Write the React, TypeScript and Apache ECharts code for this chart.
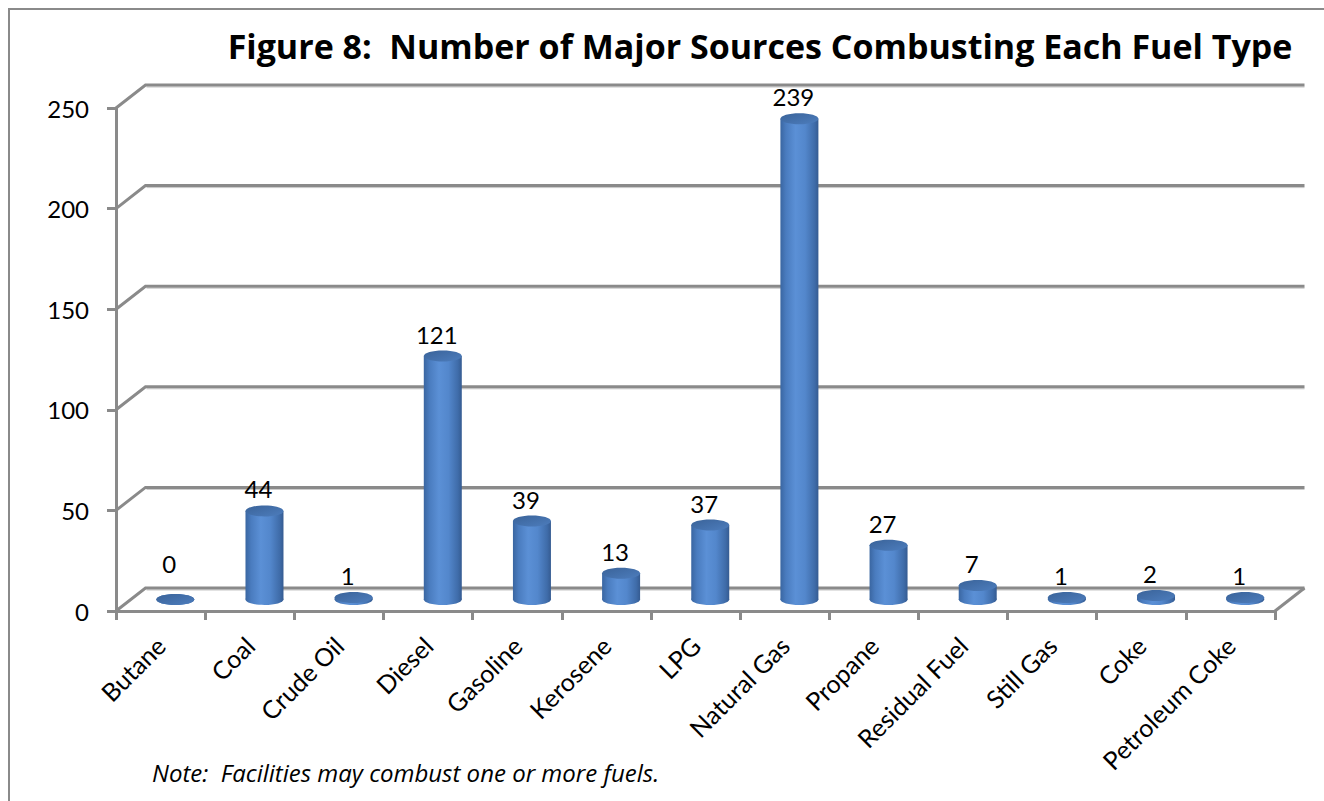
import React, { useEffect, useRef } from "react";
import * as echarts from "echarts";

// Fuel types and the number of major sources burning each one
const categories = [
  "Butane",
  "Coal",
  "Crude Oil",
  "Diesel",
  "Gasoline",
  "Kerosene",
  "LPG",
  "Natural Gas",
  "Propane",
  "Residual Fuel",
  "Still Gas",
  "Coke",
  "Petroleum Coke",
];
const sources = [0, 44, 1, 121, 39, 13, 37, 239, 27, 7, 1, 2, 1];
const valueTicks = [0, 50, 100, 150, 200, 250];

const TITLE = "Figure 8:  Number of Major Sources Combusting Each Fuel Type";
const NOTE = "Note:  Facilities may combust one or more fuels.";

// depth of the pseudo-3D box (front plane -> back wall)
const DX = 29.5;
const DY = -23;
const RX = 19;
const RY = 5.5;
const FONT = "Lato, 'Open Sans', sans-serif";
const WIDE_FONT = "'Open Sans', 'Noto Sans', sans-serif";
const LINE = "#8a8a8a";

export default function App() {
  const ref = useRef<HTMLDivElement>(null);

  useEffect(() => {
    if (!ref.current) return;
    const chart = echarts.init(ref.current, undefined, { renderer: "svg" });

    const bodyFill = () =>
      new echarts.graphic.LinearGradient(0, 0, 1, 0, [
        { offset: 0, color: "#3a66a1" },
        { offset: 0.15, color: "#4a7cbf" },
        { offset: 0.4, color: "#5b90d6" },
        { offset: 0.65, color: "#5387cc" },
        { offset: 0.9, color: "#3f6ca9" },
        { offset: 1, color: "#355b91" },
      ]);
    const topFill = () =>
      new echarts.graphic.LinearGradient(0, 0, 1, 1, [
        { offset: 0, color: "#3a6399" },
        { offset: 1, color: "#4d7dbd" },
      ]);

    chart.setOption({
      animation: false,
      backgroundColor: "#ffffff",
      grid: { left: 116, right: 49, top: 108, bottom: 190, containLabel: false },
      graphic: [
        {
          type: "rect",
          shape: { x: 9, y: 9, width: 1400, height: 900 },
          style: { fill: "none", stroke: LINE, lineWidth: 2 },
          z: -1,
        },
        {
          type: "text",
          x: 760,
          y: 46,
          style: {
            text: TITLE,
            fontFamily: WIDE_FONT,
            fontWeight: "bold",
            fontSize: 34,
            fill: "#000",
            textAlign: "center",
            textVerticalAlign: "middle",
          },
        },
        {
          type: "text",
          x: 152,
          y: 772,
          style: {
            text: NOTE,
            fontFamily: WIDE_FONT,
            fontStyle: "italic",
            fontSize: 24,
            fill: "#000",
            textAlign: "left",
            textVerticalAlign: "middle",
          },
        },
      ],
      xAxis: {
        type: "category",
        data: categories,
        boundaryGap: true,
        axisLine: { show: true, lineStyle: { color: LINE, width: 3 } },
        axisTick: { show: true, interval: 0, length: 9, lineStyle: { color: LINE, width: 3 } },
        axisLabel: {
          interval: 0,
          rotate: 45,
          margin: 30,
          fontSize: 25,
          fontFamily: FONT,
          color: "#000",
        },
        splitLine: { show: false },
      },
      yAxis: {
        type: "value",
        min: 0,
        max: 250,
        interval: 50,
        axisLine: { show: true, lineStyle: { color: LINE, width: 3 } },
        axisTick: { show: true, length: 9, lineStyle: { color: LINE, width: 3 } },
        axisLabel: { margin: 27, fontSize: 24, fontFamily: FONT, color: "#000" },
        splitLine: { show: false },
      },
      series: [
        {
          // back wall gridlines with their diagonal links to the front axis
          type: "custom",
          z: 1,
          silent: true,
          encode: { x: 0, y: 1 },
          data: valueTicks.map((v) => [0, v]),
          renderItem: (params: any, api: any) => {
            const v = api.value(1);
            const p = api.coord([0, v]);
            const cs = params.coordSys;
            const x0 = cs.x;
            const x1 = cs.x + cs.width;
            const y = p[1];
            const children: any[] = [
              {
                type: "polyline",
                shape: { points: [[x1 + DX, y + DY + 2], [x0 + DX + 1, y + DY + 2]] },
                style: { stroke: "#c6c6c6", lineWidth: 1, fill: null },
              },
              {
                type: "polyline",
                shape: { points: [[x0, y], [x0 + DX, y + DY], [x1 + DX, y + DY]] },
                style: { stroke: LINE, lineWidth: 3, fill: null },
              },
            ];
            if (v === 0) {
              children.push({
                type: "line",
                shape: { x1: x1, y1: y, x2: x1 + DX, y2: y + DY },
                style: { stroke: LINE, lineWidth: 3 },
              });
            }
            return { type: "group", children };
          },
        },
        {
          // cylinders standing mid-depth on the floor
          type: "custom",
          z: 3,
          encode: { x: 0, y: 1 },
          data: sources.map((v, i) => [i, v]),
          renderItem: (params: any, api: any) => {
            const i = api.value(0);
            const v = api.value(1);
            const top = api.coord([i, v]);
            const base = api.coord([i, 0]);
            const cx = top[0] + DX / 2;
            const ty = top[1] + DY / 2;
            const by = base[1] + DY / 2;
            return {
              type: "group",
              children: [
                {
                  type: "ellipse",
                  shape: { cx, cy: by, rx: RX, ry: RY },
                  style: { fill: bodyFill() },
                },
                {
                  type: "rect",
                  shape: { x: cx - RX, y: ty, width: RX * 2, height: Math.max(0, by - ty) },
                  style: { fill: bodyFill() },
                },
                {
                  type: "ellipse",
                  shape: { cx, cy: ty, rx: RX, ry: RY },
                  style: { fill: topFill() },
                },
                {
                  type: "text",
                  x: cx - 6,
                  // a flat (zero) disc gets its label lifted clear of it
                  y: ty - (v === 0 ? 36 : 22),
                  style: {
                    text: String(v),
                    fontSize: 24,
                    fontFamily: FONT,
                    fill: "#000",
                    textAlign: "center",
                    textVerticalAlign: "middle",
                  },
                },
              ],
            };
          },
        },
      ],
    });

    return () => chart.dispose();
  }, []);

  return (
    <div
      ref={ref}
      style={{ position: "absolute", left: 0, top: 0, width: 1324, height: 801 }}
    />
  );
}
